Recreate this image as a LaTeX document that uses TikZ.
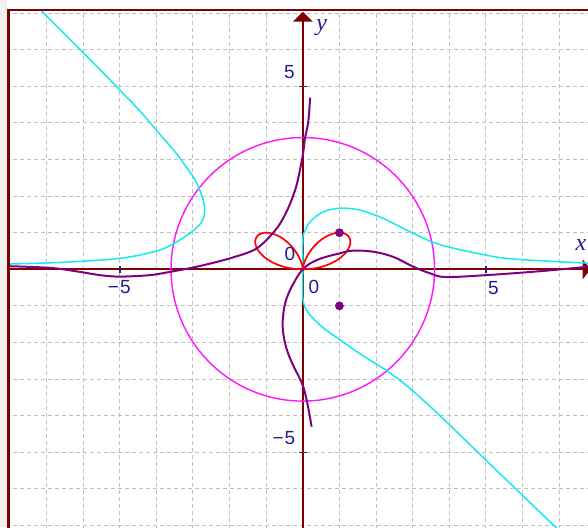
\documentclass[tikz,border=0pt]{standalone}
\usepackage{fontspec}
\setmainfont{Liberation Sans}
\newfontfamily\lblserif{Liberation Serif}
\definecolor{axred}{RGB}{128,0,0}
\definecolor{lblblue}{RGB}{32,32,140}
\definecolor{cyanc}{RGB}{20,235,235}
\definecolor{magc}{RGB}{255,20,255}
\definecolor{purc}{RGB}{128,0,128}
\definecolor{redc}{RGB}{255,0,0}
\definecolor{gridc}{RGB}{192,192,192}
\definecolor{stripc}{RGB}{240,240,240}
\tikzset{
  gridline/.style={gridc, line width=1pt, dash pattern=on 4pt off 3pt},
  axisline/.style={axred, line width=2pt},
  tickmark/.style={lblblue, line width=1.5pt},
  numlabel/.style={text=lblblue, font=\fontsize{19}{19}\selectfont, inner sep=0pt},
  varlabel/.style={text=lblblue, font=\lblserif\itshape\fontsize{24}{24}\selectfont, inner sep=0pt},
  cyancurve/.style={cyanc, line width=1.5pt},
  magcurve/.style={magc, line width=1.4pt},
  purcurve/.style={purc, line width=2pt},
  redcurve/.style={redc, line width=1.7pt},
  dotmark/.style={purc},
}
\begin{document}
\begin{tikzpicture}[x=36.6pt,y=36.6pt]
\useasboundingbox (-8.273,-7.041) rectangle (7.792,7.358);
\fill[white] (-8.273,-7.041) rectangle (7.792,7.358);
\fill[stripc] (-8.273,-7.041) rectangle (-8.082,7.358);
\begin{scope}
\clip (-8.041,-7.041) rectangle (7.792,7.085);
% grid
\foreach \i in {-8,...,7} \draw[gridline] (\i,-7.1) -- (\i,7.1);
\foreach \j in {-7,...,7} \draw[gridline] (-8.1,\j) -- (7.9,\j);
% axes
\draw[axisline] (-8.1,0) -- (7.66,0);
\draw[axisline] (0,-7.1) -- (0,6.78);
\fill[axred] (7.86,0) -- (7.648,0.273) -- (7.648,-0.273) -- cycle;
\fill[axred] (0,7.036) -- (-0.273,6.765) -- (0.273,6.765) -- cycle;
% ticks
\draw[tickmark] (5,-0.095) -- (5,0.095);
\draw[tickmark] (-5,-0.095) -- (-5,0.095);
\draw[tickmark] (-0.11,5) -- (0.11,5);
\draw[tickmark] (-0.11,-5) -- (0.11,-5);
% circle
\draw[magcurve] (0,0) circle (3.6);
% cyan curve, left branch
\draw[cyancurve] plot[smooth, tension=0.6] coordinates {
 (-7.5,7.42) (-7.13,7.05) (-6.0,5.92) (-5.0,4.9) (-4.4,4.27) (-3.9,3.68)
 (-3.5,3.22) (-3.2,2.82) (-2.95,2.45) (-2.79,2.1) (-2.7,1.8) (-2.68,1.55)
 (-2.76,1.3) (-3.0,1.05) (-3.5,0.72) (-4.0,0.5) (-5.0,0.3) (-6.6,0.19) (-8.2,0.14)};
% cyan curve, right branch
\draw[cyancurve] plot[smooth, tension=0.5] coordinates {
 (8.0,0.16) (6.76,0.22) (5.39,0.32) (4.02,0.6) (3.48,0.77) (2.84,1.07) (2.2,1.39)
 (1.56,1.62) (1.02,1.67) (0.56,1.57) (0.2,1.3) (0.03,0.98) (0,0.8) (0,0)
 (0,-0.78) (0.12,-1.15) (0.52,-1.57) (1.02,-1.93) (1.61,-2.34) (2.34,-2.8)
 (2.98,-3.3) (3.8,-4.05) (5.3,-5.5) (6.9,-7.04) (7.4,-7.55)};
% red bifolium
\draw[redcurve] plot[domain=0:180, samples=181, smooth]
 ({4*sin(\x)*cos(\x)*cos(\x)*cos(\x)},{4*sin(\x)*sin(\x)*cos(\x)*cos(\x)});
% purple curve, strand 1
\draw[purcurve] plot[smooth, tension=0.5] coordinates {
 (0.2,4.69) (0.15,4.03) (0.06,3.58) (0,3.12) (-0.17,2.3) (-0.4,1.67) (-0.71,1.12)
 (-1.26,0.57) (-1.99,0.3) (-2.9,0.07) (-3.63,-0.07) (-4.18,-0.16) (-5.0,-0.2)
 (-5.54,-0.16) (-6.09,-0.07) (-6.9,0.04) (-8.2,0.09)};
% purple curve, strand 2
\draw[purcurve] plot[smooth, tension=0.6] coordinates {
 (0.24,-4.3) (0.18,-3.95) (0.1,-3.55) (0.01,-3.2) (-0.1,-2.95) (-0.25,-2.65)
 (-0.4,-2.3) (-0.5,-1.95) (-0.55,-1.57) (-0.53,-1.2) (-0.46,-0.85) (-0.3,-0.47)
 (0,0) (0.4,0.26) (1.02,0.44) (1.38,0.51) (1.93,0.48) (2.47,0.34) (3.02,0.07)
 (3.48,-0.11) (3.9,-0.21) (5.0,-0.16) (6.5,-0.05) (7.8,0.07) (8.0,0.08)};
% dots
\fill[dotmark] (1,1) circle (0.12);
\fill[dotmark] (1,-1) circle (0.12);
\end{scope}
% frame border
\draw[axred, line width=2.6pt] (-8.041,-7.1) -- (-8.041,7.085) -- (7.9,7.085);
% labels
\node[numlabel] (lx5) at (5.205,-0.519) {5};
\node[numlabel] (lxm5) at (-5.014,-0.484) {−\kern1pt5};
\node[numlabel] (ly5) at (-0.363,5.377) {5};
\node[numlabel] (lym5) at (-0.514,-4.609) {−\kern1pt5};
\node[numlabel] (lo1) at (-0.35,0.432) {0};
\node[numlabel] (lo2) at (0.301,-0.478) {0};
\node[varlabel] (lx) at (7.601,0.664) {x};
\node[varlabel] (ly) at (0.516,6.598) {y};
\end{tikzpicture}
\end{document}
